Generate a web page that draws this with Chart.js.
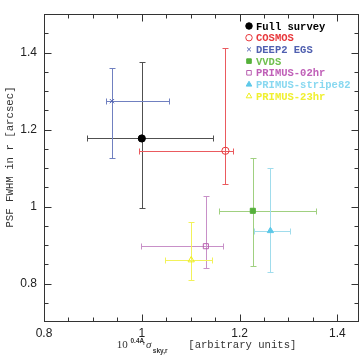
<!DOCTYPE html>
<html><head><meta charset="utf-8">
<style>html,body{margin:0;padding:0;background:#fff;}canvas{display:block;}</style>
<script src="https://cdn.jsdelivr.net/npm/chart.js@4/dist/chart.umd.min.js"></script>
</head><body>
<canvas id="c" width="364" height="356"></canvas>
<script>
// ---- data ----
const seriesNames = ['Full survey','COSMOS','DEEP2 EGS','VVDS','PRIMUS-02hr','PRIMUS-stripe82','PRIMUS-23hr'];
const xValues = [1.000, 1.171, 0.939, 1.227, 1.131, 1.263, 1.101];
const yValues = [1.177, 1.145, 1.274, 0.989, 0.897, 0.937, 0.861];
const xLow    = [0.888, 0.994, 0.927, 1.158, 0.999, 1.229, 1.047];
const xHigh   = [1.146, 1.186, 1.055, 1.357, 1.167, 1.303, 1.144];
const yLow    = [0.996, 1.058, 1.126, 0.846, 0.841, 0.829, 0.808];
const yHigh   = [1.375, 1.412, 1.360, 1.125, 1.028, 1.100, 0.960];

const xMajorTicks = [0.8, 1.0, 1.2, 1.4];
const xTickLabels = ['0.8', '1', '1.2', '1.4'];
const xMinorTicks = [0.85, 0.9, 0.95, 1.05, 1.1, 1.15, 1.25, 1.3, 1.35];
const yMajorTicks = [0.8, 1.0, 1.2, 1.4];
const yTickLabels = ['0.8', '1', '1.2', '1.4'];
const yMinorTicks = [0.75, 0.85, 0.9, 0.95, 1.05, 1.1, 1.15, 1.25, 1.3, 1.35, 1.45];

// ---- styles ----
const markerColors = ['#000000','#e8383c','#4f5fb0','#55b03a','#b860b0','#5cc8e8','#eeee20'];
const barColors    = ['#505050','#ea5a5e','#7080c0','#a0d080','#c890c8','#a0dcec','#f2f25a'];
const textColors   = ['#000000','#e8383c','#5060b0','#70c050','#c060b8','#88d8f0','#f0f030'];
const pointStyles  = ['circle','circle','crossRot','rect','rect','triangle','triangle'];
const filled       = [true, false, false, true, false, true, false];
const pointRadii   = [3.6, 3.6, 3, 3.6, 3.6, 3.6, 3.6];

const datasets = seriesNames.map((n, i) => ({
  label: n,
  data: [{x: xValues[i], y: yValues[i]}],
  pointStyle: pointStyles[i],
  pointRadius: pointRadii[i],
  pointHoverRadius: pointRadii[i],
  borderWidth: 1,
  borderColor: markerColors[i],
  backgroundColor: filled[i] ? markerColors[i] : 'rgba(0,0,0,0)'
}));

function drawMarker(ctx, style, r, x, y) {
  if (Chart.helpers && Chart.helpers.drawPoint) {
    Chart.helpers.drawPoint(ctx, {pointStyle: style, radius: r, rotation: 0, borderWidth: 1}, x, y);
  } else {
    ctx.beginPath(); ctx.arc(x, y, r, 0, Math.PI * 2); ctx.fill(); ctx.stroke();
  }
}

const errorBars = {
  id: 'errorBars',
  beforeDatasetsDraw(chart) {
    const ctx = chart.ctx, xs = chart.scales.x, ys = chart.scales.y;
    const cap = 3;
    ctx.save();
    ctx.lineWidth = 1;
    const seg = (a, b, c, d) => { ctx.beginPath(); ctx.moveTo(a, b); ctx.lineTo(c, d); ctx.stroke(); };
    seriesNames.forEach((n, i) => {
      ctx.strokeStyle = barColors[i];
      const px = Math.round(xs.getPixelForValue(xValues[i])) + 0.5;
      const py = Math.round(ys.getPixelForValue(yValues[i])) + 0.5;
      const xl = Math.round(xs.getPixelForValue(xLow[i])) + 0.5;
      const xh = Math.round(xs.getPixelForValue(xHigh[i])) + 0.5;
      const yl = Math.round(ys.getPixelForValue(yLow[i])) + 0.5;
      const yh = Math.round(ys.getPixelForValue(yHigh[i])) + 0.5;
      seg(xl, py, xh, py);
      seg(px, yl, px, yh);
      seg(xl, py - cap, xl, py + cap);
      seg(xh, py - cap, xh, py + cap);
      seg(px - cap, yl, px + cap, yl);
      seg(px - cap, yh, px + cap, yh);
    });
    ctx.restore();
  }
};

const frame = {
  id: 'frame',
  afterDraw(chart) {
    const ctx = chart.ctx, xs = chart.scales.x, ys = chart.scales.y, a = chart.chartArea;
    ctx.save();
    ctx.strokeStyle = '#333';
    ctx.lineWidth = 1;
    const L = Math.round(a.left) + 0.5, R = Math.round(a.right) - 0.5;
    const T = Math.round(a.top) + 0.5, B = Math.round(a.bottom) - 0.5;
    ctx.strokeRect(L, T, R - L, B - T);
    const seg = (p, q, r, s) => { ctx.beginPath(); ctx.moveTo(p, q); ctx.lineTo(r, s); ctx.stroke(); };
    const xt = (v, len) => { const p = Math.round(xs.getPixelForValue(v)) + 0.5; seg(p, B, p, B - len); seg(p, T, p, T + len); };
    const yt = (v, len) => { const p = Math.round(ys.getPixelForValue(v)) + 0.5; seg(L, p, L + len, p); seg(R, p, R - len, p); };
    xMajorTicks.forEach(v => xt(v, 7));
    xMinorTicks.forEach(v => xt(v, 4));
    yMajorTicks.forEach(v => yt(v, 7));
    yMinorTicks.forEach(v => yt(v, 4));

    // axis titles
    ctx.fillStyle = '#333';
    ctx.textBaseline = 'alphabetic';
    ctx.font = '10.7px "Liberation Mono"';
    ctx.save();
    ctx.translate(13, 157);
    ctx.rotate(-Math.PI / 2);
    ctx.textAlign = 'center';
    ctx.fillText('PSF FWHM in r [arcsec]', 0, 0);
    ctx.restore();

    ctx.textAlign = 'left';
    const by = 347.5;
    ctx.font = '11px "Liberation Serif"';
    ctx.fillText('10', 116.7, by);
    ctx.font = 'bold 6.5px "Liberation Sans"';
    ctx.fillText('0.4A', 130.5, by - 4.5);
    ctx.font = 'bold 4.5px "Liberation Sans"';
    ctx.fillText('r', 143.2, by - 2.5);
    ctx.font = 'italic 11px "Liberation Serif"';
    ctx.fillText('σ', 146, by);
    ctx.font = 'bold 6.5px "Liberation Sans"';
    ctx.fillText('sky,r', 152.8, by + 5);
    ctx.font = '10.6px "Liberation Mono"';
    ctx.fillText('[arbitrary units]', 188.3, by);

    // legend
    ctx.font = 'bold 10.5px "Liberation Mono"';
    ctx.textBaseline = 'middle';
    seriesNames.forEach((n, i) => {
      const y = 26 + i * 11.7;
      ctx.fillStyle = filled[i] ? markerColors[i] : 'rgba(0,0,0,0)';
      ctx.strokeStyle = markerColors[i];
      ctx.lineWidth = 1;
      drawMarker(ctx, pointStyles[i], pointRadii[i] * 0.9, 249, y);
      ctx.fillStyle = textColors[i];
      ctx.fillText(n, 256, y + 1);
    });
    ctx.restore();
  }
};

new Chart(document.getElementById('c'), {
  type: 'scatter',
  data: { datasets },
  options: {
    responsive: false,
    devicePixelRatio: 1,
    animation: false,
    layout: { padding: { top: 6, right: 3, left: 0, bottom: 0 } },
    plugins: { legend: { display: false }, tooltip: { enabled: false } },
    scales: {
      x: {
        type: 'linear', min: 0.8, max: 1.445,
        grid: { display: false, drawTicks: false },
        border: { display: false },
        afterBuildTicks: s => { s.ticks = xMajorTicks.map(v => ({ value: v })); },
        afterFit: s => { s.height = 34; },
        ticks: {
          padding: 4, color: '#222', maxRotation: 0, autoSkip: false,
          font: { family: '"Liberation Sans"', size: 12 },
          callback: v => { const k = xMajorTicks.findIndex(t => Math.abs(t - v) < 1e-6); return k >= 0 ? xTickLabels[k] : ''; }
        }
      },
      y: {
        type: 'linear', min: 0.7, max: 1.5,
        grid: { display: false, drawTicks: false },
        border: { display: false },
        afterBuildTicks: s => { s.ticks = yMajorTicks.map(v => ({ value: v })); },
        afterFit: s => { s.width = 44; },
        ticks: {
          padding: 7, color: '#222', autoSkip: false,
          font: { family: '"Liberation Sans"', size: 12 },
          callback: v => { const k = yMajorTicks.findIndex(t => Math.abs(t - v) < 1e-6); return k >= 0 ? yTickLabels[k] : ''; }
        }
      }
    }
  },
  plugins: [errorBars, frame]
});
</script>
</body></html>
